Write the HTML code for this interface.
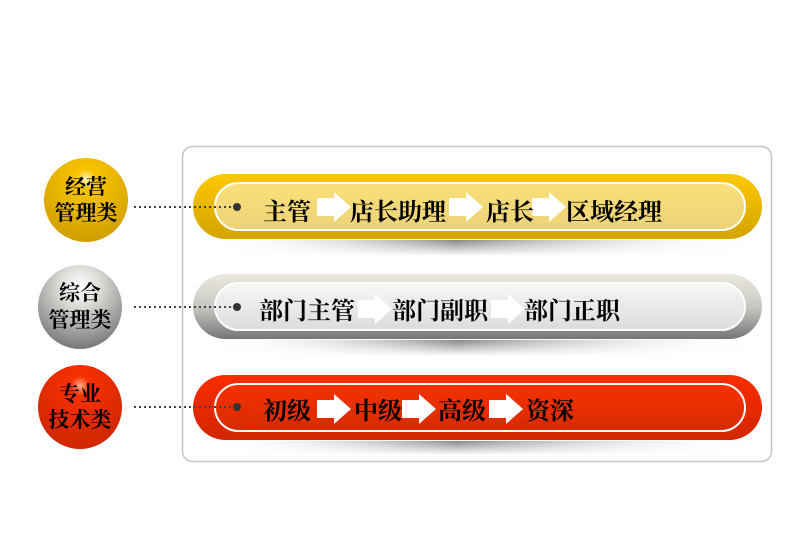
<!DOCTYPE html>
<html><head><meta charset="utf-8"><style>
html,body{margin:0;padding:0;background:#fff;}
svg{display:block}
text{font-family:"Liberation Serif","Noto Serif CJK SC",serif;font-weight:bold;fill:#000}
</style></head><body>
<svg width="792" height="544" viewBox="0 0 792 544" xmlns="http://www.w3.org/2000/svg">
<defs>
<linearGradient id="yb" x1="0" y1="0" x2="0" y2="1"><stop offset="0" stop-color="#fcc800"/><stop offset="1" stop-color="#d4a400"/></linearGradient>
<linearGradient id="yi" x1="0" y1="0" x2="0" y2="1"><stop offset="0" stop-color="#fbe07a"/><stop offset="1" stop-color="#ecd277"/></linearGradient>
<linearGradient id="gb" x1="0" y1="0" x2="0" y2="1"><stop offset="0" stop-color="#ebe8df"/><stop offset="0.5" stop-color="#c8c8c4"/><stop offset="1" stop-color="#757575"/></linearGradient>
<linearGradient id="gi" x1="0" y1="0" x2="0" y2="1"><stop offset="0" stop-color="#f7f7f5"/><stop offset="1" stop-color="#dcdcdc"/></linearGradient>
<linearGradient id="rb" x1="0" y1="0" x2="0" y2="1"><stop offset="0" stop-color="#fb2c00"/><stop offset="1" stop-color="#d22600"/></linearGradient>
<linearGradient id="ri" x1="0" y1="0" x2="0" y2="1"><stop offset="0" stop-color="#f73200"/><stop offset="1" stop-color="#d72a00"/></linearGradient>
<linearGradient id="sh" x1="0" y1="0" x2="1" y2="0"><stop offset="0" stop-color="#fff" stop-opacity="0"/><stop offset="0.45" stop-color="#888"/><stop offset="1" stop-color="#fff" stop-opacity="0"/></linearGradient>
<linearGradient id="shv" x1="0" y1="0" x2="0" y2="1"><stop offset="0" stop-color="#fff" stop-opacity="0"/><stop offset="1" stop-color="#fff" stop-opacity="1"/></linearGradient>
<radialGradient id="cy" cx="0.5" cy="0.25" r="0.75"><stop offset="0" stop-color="#fff4c0"/><stop offset="0.15" stop-color="#f8c400"/><stop offset="1" stop-color="#d09e00"/></radialGradient>
<radialGradient id="cg" cx="0.5" cy="0.25" r="0.8"><stop offset="0" stop-color="#ffffff"/><stop offset="0.3" stop-color="#dcdcd8"/><stop offset="1" stop-color="#6e6e6e"/></radialGradient>
<radialGradient id="cr" cx="0.5" cy="0.25" r="0.75"><stop offset="0" stop-color="#ffb090"/><stop offset="0.15" stop-color="#f83000"/><stop offset="1" stop-color="#cc2600"/></radialGradient>
<g id="arr"><polygon points="0,-9 17,-9 17,-15 34,0 17,15 17,9 0,9" fill="#fff"/></g>
</defs>
<rect x="182.5" y="146.5" width="589" height="315" rx="10" fill="#fff" stroke="#c4c4c4" stroke-width="1.5"/>

<g>
<rect x="210" y="240" width="550" height="16" fill="url(#sh)"/><rect x="210" y="240" width="550" height="16" fill="url(#shv)"/>
<rect x="210" y="340" width="550" height="16" fill="url(#sh)"/><rect x="210" y="340" width="550" height="16" fill="url(#shv)"/>
<rect x="210" y="441" width="550" height="14" fill="url(#sh)"/><rect x="210" y="441" width="550" height="14" fill="url(#shv)"/>
</g>

<rect x="193" y="174" width="569" height="65" rx="32.5" fill="url(#yb)"/>
<rect x="215" y="183" width="530" height="47" rx="23.5" fill="url(#yi)" stroke="#fff" stroke-width="2"/>
<rect x="193" y="274" width="569" height="65" rx="32.5" fill="url(#gb)"/>
<rect x="215" y="283" width="530" height="47" rx="23.5" fill="url(#gi)" stroke="#fff" stroke-width="2"/>
<rect x="193" y="375" width="569" height="65" rx="32.5" fill="url(#rb)"/>
<rect x="215" y="384" width="530" height="47" rx="23.5" fill="url(#ri)" stroke="#fff" stroke-width="2"/>

<circle cx="86" cy="200" r="42" fill="url(#cy)"/>
<circle cx="80" cy="307" r="42" fill="url(#cg)"/>
<circle cx="80" cy="407" r="42" fill="url(#cr)"/>
<g font-size="21" text-anchor="middle">
<text x="86" y="194">经营</text><text x="86" y="220">管理类</text>
<text x="80" y="300">综合</text><text x="80" y="327">管理类</text>
<text x="80" y="401">专业</text><text x="80" y="427">技术类</text>
</g>

<g stroke="#444" stroke-width="2" stroke-dasharray="2 3">
<line x1="134" y1="207" x2="234" y2="207"/>
<line x1="134" y1="307" x2="234" y2="307"/>
<line x1="134" y1="407" x2="234" y2="407"/>
</g>
<circle cx="237" cy="207" r="4" fill="#333"/>
<circle cx="237" cy="307" r="4" fill="#333"/>
<circle cx="237" cy="407" r="4" fill="#333"/>

<use href="#arr" x="317" y="207"/><use href="#arr" x="449" y="207"/><use href="#arr" x="532" y="207"/>
<use href="#arr" x="358" y="309"/><use href="#arr" x="491" y="309"/>
<use href="#arr" x="317" y="409"/><use href="#arr" x="402" y="409"/><use href="#arr" x="489" y="409"/>

<g font-size="24">
<text x="263" y="220">主管</text><text x="350" y="220">店长助理</text><text x="486" y="220">店长</text><text x="566" y="220">区域经理</text>
<text x="259" y="319">部门主管</text><text x="392" y="319">部门副职</text><text x="524" y="319">部门正职</text>
<text x="263" y="419">初级</text><text x="354" y="419">中级</text><text x="438" y="419">高级</text><text x="526" y="419">资深</text>
</g>
</svg>
</body></html>
